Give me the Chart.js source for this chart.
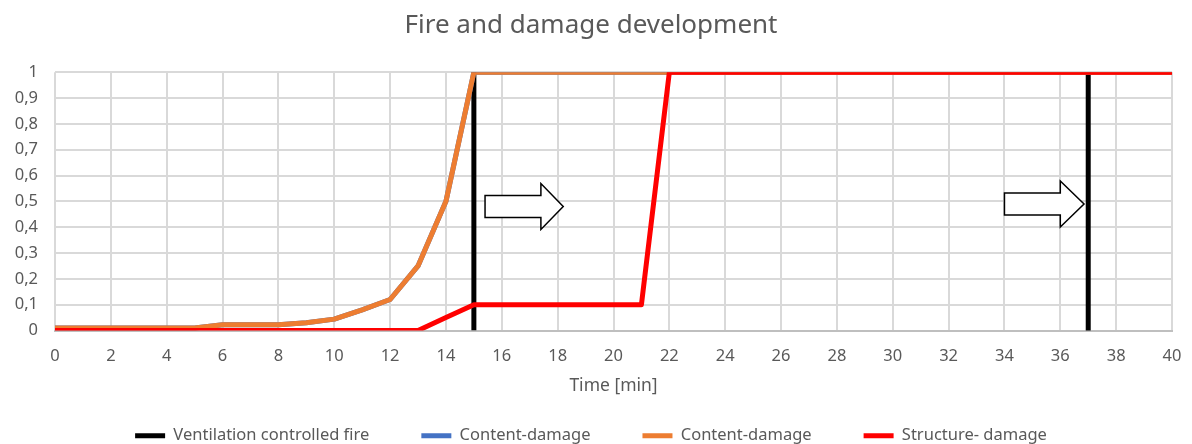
<!DOCTYPE html>
<html>
<head>
<meta charset="utf-8">
<script src="https://cdn.jsdelivr.net/npm/chart.js@4.4.1/dist/chart.umd.min.js"></script>
<style>
	html, body { margin: 0; padding: 0; background: #fff; }
	#wrap { width: 1192px; height: 444px; }
</style>
</head>
<body>
<div id="wrap"><canvas id="fire-chart"></canvas></div>
<script>
// minutes 0..40
const minutes = [0,1,2,3,4,5,6,7,8,9,10,11,12,13,14,15,16,17,18,19,20,21,22,23,24,25,26,27,28,29,30,31,32,33,34,35,36,37,38,39,40];
const contentDamage = [0.01,0.01,0.01,0.01,0.01,0.01,0.022,0.022,0.022,0.03,0.044,0.08,0.12,0.25,0.5,1,1,1,1,1,1,1,1,1,1,1,1,1,1,1,1,1,1,1,1,1,1,1,1,1,1];
const structureDamage = [0,0,0,0,0,0,0,0,0,0,0,0,0,0,0.05,0.1,0.1,0.1,0.1,0.1,0.1,0.1,1,1,1,1,1,1,1,1,1,1,1,1,1,1,1,1,1,1,1];
// vertical markers for ventilation controlled fire
const ventX = [15, 15, 15, 37, 37];
const ventY = [0, 1, null, 1, 0];
// block arrows (data units)
const arrowStart = [15.4, 34.0];
const arrowHeadStart = [17.4, 36.0];
const arrowTip = [18.2, 36.85];
const arrowY = [0.48, 0.49];

const toPoints = (xs, ys) => xs.map((x, i) => ({ x: x, y: ys[i] }));

const arrowPlugin = {
	id: 'arrows',
	afterDatasetsDraw(chart) {
		const { ctx, scales } = chart;
		ctx.save();
		ctx.lineWidth = 1.5;
		ctx.strokeStyle = '#000';
		ctx.fillStyle = '#fff';
		for (let i = 0; i < arrowStart.length; i++) {
			const x0 = scales.x.getPixelForValue(arrowStart[i]);
			const xh = scales.x.getPixelForValue(arrowHeadStart[i]);
			const x1 = scales.x.getPixelForValue(arrowTip[i]);
			const yc = scales.y.getPixelForValue(arrowY[i]);
			const bh = 11, hh = 23;
			ctx.beginPath();
			ctx.moveTo(x0, yc - bh);
			ctx.lineTo(xh, yc - bh);
			ctx.lineTo(xh, yc - hh);
			ctx.lineTo(x1, yc);
			ctx.lineTo(xh, yc + hh);
			ctx.lineTo(xh, yc + bh);
			ctx.lineTo(x0, yc + bh);
			ctx.closePath();
			ctx.fill();
			ctx.stroke();
		}
		ctx.restore();
	}
};

// wide gaps between legend items, but keep the legend low and compact
const legendShift = 22;
const legendFit = {
	id: 'legendFit',
	beforeInit(chart) {
		const fit = chart.legend.fit;
		const draw = chart.legend.draw;
		chart.legend.fit = function () {
			fit.call(this);
			this.height -= 10 + legendShift;
		};
		chart.legend.draw = function () {
			this.top -= legendShift;
			draw.call(this);
			this.top += legendShift;
		};
	}
};

const ctx = document.getElementById('fire-chart').getContext('2d');
new Chart(ctx, {
	type: 'line',
	data: {
		datasets: [
			{
				label: 'Ventilation controlled fire',
				data: toPoints(ventX, ventY),
				borderColor: '#000000',
				backgroundColor: '#000000',
				borderWidth: 5,
				pointRadius: 0,
				spanGaps: false,
				order: 3,
			},
			{
				label: 'Content-damage',
				data: toPoints(minutes, contentDamage),
				borderColor: '#4472c4',
				backgroundColor: '#4472c4',
				borderWidth: 5,
				pointRadius: 0,
				order: 2,
			},
			{
				label: 'Content-damage',
				data: toPoints(minutes, contentDamage),
				borderColor: '#ed7d31',
				backgroundColor: '#ed7d31',
				borderWidth: 5,
				pointRadius: 0,
				order: 1,
			},
			{
				label: 'Structure- damage',
				data: toPoints(minutes, structureDamage),
				borderColor: '#ff0000',
				backgroundColor: '#ff0000',
				borderWidth: 5,
				pointRadius: 0,
				order: 0,
			},
		],
	},
	options: {
		responsive: true,
		maintainAspectRatio: false,
		animation: false,
		layout: { padding: { left: 10, right: 20, top: 6, bottom: 0 } },
		elements: { line: { tension: 0, borderJoinStyle: 'round' } },
		plugins: {
			title: {
				display: true,
				text: 'Fire and damage development',
				color: '#595959',
				font: { family: 'Noto Sans', size: 26, weight: 'normal' },
				padding: { top: 4, bottom: 31 },
			},
			legend: {
				position: 'bottom',
				reverse: true,
				labels: {
					color: '#595959',
					font: { family: 'Noto Sans', size: 16.5 },
					boxWidth: 30,
					boxHeight: 5,
					padding: 52,
					generateLabels(chart) {
						return Chart.defaults.plugins.legend.labels.generateLabels(chart).map(l => ({ ...l, lineWidth: 0 }));
					},
				},
			},
			tooltip: { enabled: false },
		},
		scales: {
			x: {
				type: 'linear',
				min: 0,
				max: 40,
				ticks: { stepSize: 2, color: '#595959', font: { family: 'Noto Sans', size: 16.5 }, padding: 16 },
				grid: { color: '#d9d9d9', lineWidth: 2, drawTicks: false },
				border: { color: '#bfbfbf', width: 2 },
				title: {
					display: true,
					text: 'Time [min]',
					color: '#595959',
					font: { family: 'Noto Sans', size: 17.5 },
					padding: { top: 4, bottom: 1 },
				},
				afterFit(scale) {
					scale.height = 67;
					scale.paddingLeft = 0;
					scale.paddingRight = 0;
				},
			},
			y: {
				min: 0,
				max: 1,
				ticks: {
					stepSize: 0.1,
					color: '#595959',
					font: { family: 'Noto Sans', size: 16.5 },
					padding: 17,
					callback: v => String(Math.round(v * 10) / 10).replace('.', ','),
				},
				grid: { color: '#d9d9d9', lineWidth: 2, drawTicks: false },
				border: { display: false },
				afterFit(scale) { scale.width = 45; },
			},
		},
	},
	plugins: [arrowPlugin, legendFit],
});
</script>
</body>
</html>
